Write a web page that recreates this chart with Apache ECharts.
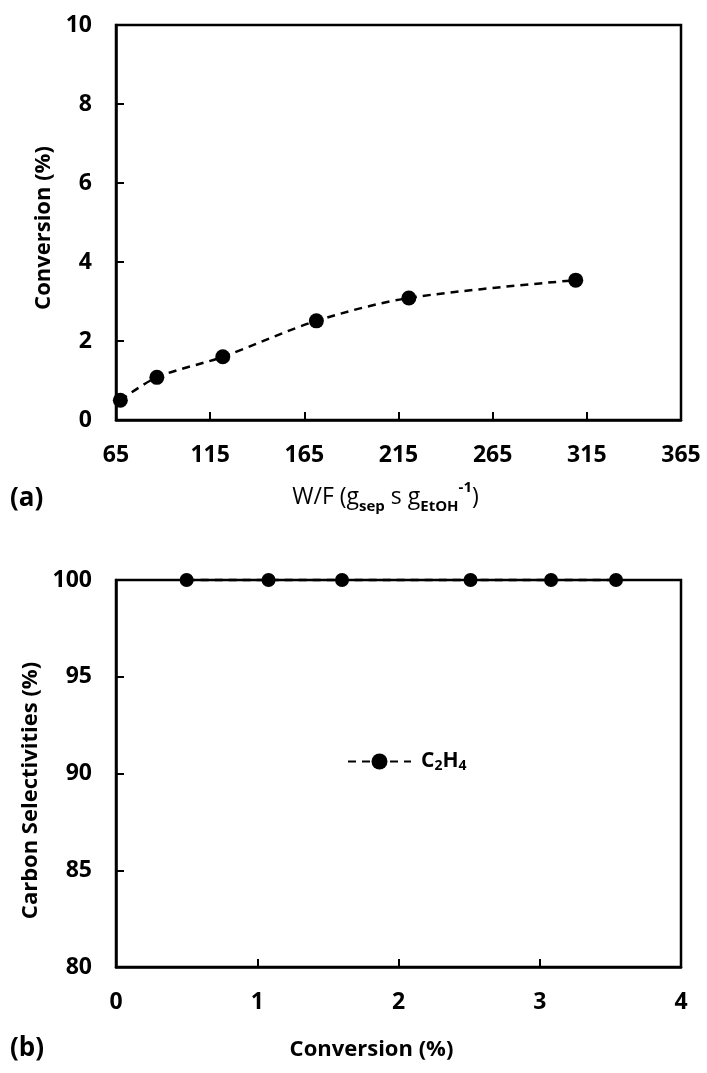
<!DOCTYPE html>
<html>
<head>
<meta charset="utf-8">
<script src="https://cdn.jsdelivr.net/npm/echarts@6/dist/echarts.min.js"></script>
<style>
  html, body { margin: 0; padding: 0; background: #fff; }
  #chart { width: 707px; height: 1073px; }
</style>
</head>
<body>
<div id="chart"></div>
<script>
// (a) conversion vs. space time W/F
const wfValues = [67.3, 86.7, 121.7, 171.4, 220.5, 309.1];
const conversionValues = [0.50, 1.08, 1.60, 2.51, 3.09, 3.54];
const wfTicks = [65, 115, 165, 215, 265, 315, 365];

// (b) carbon selectivity vs. conversion
const selConversion = [0.50, 1.08, 1.60, 2.51, 3.08, 3.54];
const selEthylene = [100, 100, 100, 100, 100, 100];

const FONT = '"Open Sans", "Liberation Sans", sans-serif';
const BLACK = '#000';

function axisCommon() {
  return {
    axisLine: { show: true, onZero: false, lineStyle: { color: BLACK, width: 2.5 } },
    axisTick: { show: true, inside: true, length: 8, lineStyle: { color: BLACK, width: 2 } },
    splitLine: { show: false },
    axisLabel: { color: BLACK, fontFamily: FONT, fontWeight: 'bold', fontSize: 23, margin: 24 }
  };
}

const chart = echarts.init(document.getElementById('chart'), null, { renderer: 'canvas' });

const xA = axisCommon();
xA.axisLabel.customValues = wfTicks;
xA.axisTick.customValues = wfTicks;

const option = {
  backgroundColor: '#fff',
  animation: false,
  grid: [
    { left: 116, right: 26, top: 25, height: 395, show: true, borderColor: BLACK, borderWidth: 2.5, backgroundColor: 'transparent' },
    { left: 116, right: 26, top: 580, height: 387, show: true, borderColor: BLACK, borderWidth: 2.5, backgroundColor: 'transparent' }
  ],
  xAxis: [
    Object.assign(xA, {
      gridIndex: 0, type: 'value', min: 65, max: 365,
      name: '{n|W/F (g}{sub|sep}{n| s g}{sub|EtOH}{sup|-1}{n|)}',
      nameLocation: 'middle', nameGap: 60,
      nameTextStyle: {
        color: BLACK, fontFamily: FONT, fontSize: 22, padding: [0, 26, 0, 0],
        rich: {
          n: { fontFamily: FONT, fontSize: 23, color: BLACK, lineHeight: 34, verticalAlign: 'middle' },
          sub: { fontFamily: FONT, fontSize: 15, fontWeight: 'bold', color: BLACK, lineHeight: 34, verticalAlign: 'bottom' },
          sup: { fontFamily: FONT, fontSize: 15, fontWeight: 'bold', color: BLACK, lineHeight: 34, verticalAlign: 'top' }
        }
      }
    }),
    Object.assign(axisCommon(), {
      gridIndex: 1, type: 'value', min: 0, max: 4, interval: 1,
      name: 'Conversion (%)', nameLocation: 'middle', nameGap: 72,
      nameTextStyle: { color: BLACK, fontFamily: FONT, fontWeight: 'bold', fontSize: 22, padding: [0, 54, 0, 0] }
    })
  ],
  yAxis: [
    Object.assign(axisCommon(), {
      gridIndex: 0, type: 'value', min: 0, max: 10, interval: 2,
      name: 'Conversion (%)', nameLocation: 'middle', nameGap: 60,
      nameTextStyle: { color: BLACK, fontFamily: FONT, fontWeight: 'bold', fontSize: 22, padding: [0, 11, 0, 0] }
    }),
    Object.assign(axisCommon(), {
      gridIndex: 1, type: 'value', min: 80, max: 100, interval: 5,
      name: 'Carbon Selectivities (%)', nameLocation: 'middle', nameGap: 68,
      nameTextStyle: { color: BLACK, fontFamily: FONT, fontWeight: 'bold', fontSize: 22, padding: [0, 34, 0, 0] }
    })
  ],
  legend: {
    data: ['C2H4'],
    left: 347, top: 751, padding: 0,
    itemWidth: 63, itemHeight: 20,
    formatter: () => '{b|C}{s|2}{b|H}{s|4}',
    textStyle: {
      padding: [0, 0, 0, 5],
      rich: {
        b: { fontFamily: FONT, fontWeight: 'bold', fontSize: 21, color: BLACK, lineHeight: 24, verticalAlign: 'middle' },
        s: { fontFamily: FONT, fontWeight: 'bold', fontSize: 14, color: BLACK, lineHeight: 24, verticalAlign: 'bottom' }
      }
    }
  },
  series: [
    {
      name: 'W/F',
      type: 'line',
      xAxisIndex: 0, yAxisIndex: 0,
      data: wfValues.map((x, i) => [x, conversionValues[i]]),
      smooth: 0.3,
      symbol: 'circle', symbolSize: 15,
      itemStyle: { color: BLACK },
      lineStyle: { color: BLACK, width: 2.5, type: [8, 6] },
      clip: false
    },
    {
      name: 'C2H4',
      type: 'line',
      xAxisIndex: 1, yAxisIndex: 1,
      data: selConversion.map((x, i) => [x, selEthylene[i]]),
      symbol: 'circle', symbolSize: 14,
      itemStyle: { color: BLACK },
      lineStyle: { color: BLACK, width: 2.5, type: [8, 6] },
      clip: false
    }
  ],
  graphic: [
    { type: 'text', left: 10, top: 486, style: { text: '(a)', font: 'bold 26px ' + FONT, fill: BLACK } },
    { type: 'text', left: 10, top: 1036, style: { text: '(b)', font: 'bold 26px ' + FONT, fill: BLACK } }
  ]
};

chart.setOption(option);
</script>
</body>
</html>
